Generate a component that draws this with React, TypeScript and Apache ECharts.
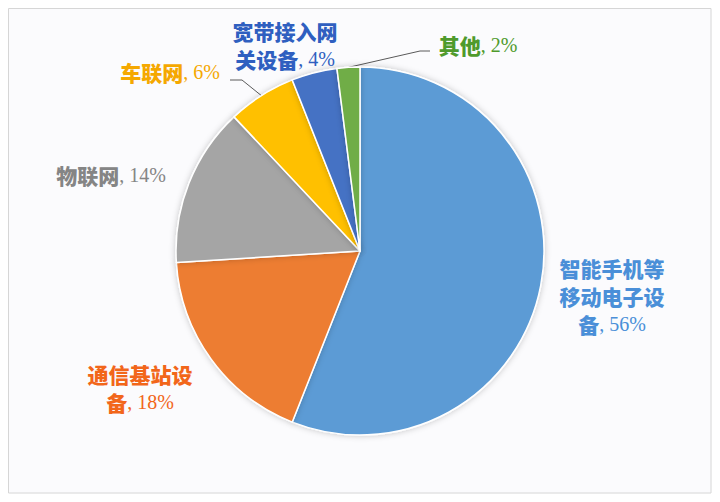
import React, { useEffect, useRef } from "react";
import * as echarts from "echarts";

// data (percent shares, clockwise from 12 o'clock)
const categories = [
  "智能手机等移动电子设备",
  "通信基站设备",
  "物联网",
  "车联网",
  "宽带接入网关设备",
  "其他",
];
const shares = [56, 18, 14, 6, 4, 2];

const SLICE_COLORS = ["#5b9bd5", "#ed7d31", "#a5a5a5", "#ffc000", "#4472c4", "#70ad47"];
const LABEL_COLORS = ["#4a8fd8", "#f2661a", "#858585", "#f5a800", "#2f5fc0", "#4f9a2c"];

// label centres and label-line bends (layout only)
const LABEL_POS = [
  [612, 296],
  [140, 388],
  [111, 175],
  [170, 72],
  [285, 45],
  [478, 45],
];
const LINE_BENDS: Record<number, number[][]> = {
  3: [
    [242, 80],
    [230, 80],
  ],
  5: [
    [420, 51],
    [430, 51],
  ],
};

const CJK = '"Noto Sans CJK SC", "Noto Sans", sans-serif';
const SERIF = '"Liberation Serif", "DejaVu Serif", serif';

function wrapName(s: string, n = 5) {
  const out: string[] = [];
  for (let i = 0; i < s.length; i += n) out.push(s.slice(i, i + n));
  return out;
}

const App: React.FC = () => {
  const ref = useRef<HTMLDivElement | null>(null);

  useEffect(() => {
    if (!ref.current) return;
    const inst = echarts.init(ref.current, undefined, { renderer: "svg" });

    const data = categories.map((name, i) => {
      const rich: any = {};
      rich["n" + i] = {
        fontFamily: CJK,
        fontWeight: 900,
        fontSize: 21,
        lineHeight: 28,
        color: LABEL_COLORS[i],
      };
      rich["v" + i] = {
        fontFamily: SERIF,
        fontSize: 20,
        lineHeight: 28,
        color: LABEL_COLORS[i],
      };
      return {
        name,
        value: shares[i],
        itemStyle: { color: SLICE_COLORS[i] },
        label: { rich },
        labelLine: { show: LINE_BENDS[i] !== undefined },
      };
    });

    inst.setOption({
      animation: false,
      backgroundColor: "#ffffff",
      graphic: [
        {
          type: "rect",
          shape: { x: 8.5, y: 8.5, width: 702.5, height: 484.5 },
          style: { fill: "#fbfbfd", stroke: "#d6d6d6", lineWidth: 1 },
          z: -10,
          silent: true,
        },
      ],
      series: [
        {
          type: "pie",
          center: [360, 251],
          radius: 184,
          startAngle: 90,
          clockwise: true,
          avoidLabelOverlap: false,
          itemStyle: {
            borderColor: "#ffffff",
            borderWidth: 1.5,
            shadowBlur: 6,
            shadowColor: "rgba(0,0,0,0.22)",
          },
          emphasis: { disabled: true },
          label: {
            show: true,
            position: "outside",
            formatter: (p: any) => {
              const i = p.dataIndex;
              const lines = wrapName(p.name);
              const last = lines.length - 1;
              return lines
                .map((l, k) =>
                  k === last ? `{n${i}|${l}}{v${i}|, ${p.value}%}` : `{n${i}|${l}}`
                )
                .join("\n");
            },
          },
          labelLine: {
            show: true,
            lineStyle: { color: "#5a5a5a", width: 1 },
          },
          labelLayout: (params: any) => {
            const i = params.dataIndex;
            const [x, y] = LABEL_POS[i];
            const res: any = { x, y, align: "center", verticalAlign: "middle" };
            const bends = LINE_BENDS[i];
            if (bends && params.labelLinePoints) {
              res.labelLinePoints = [params.labelLinePoints[0], ...bends];
            }
            return res;
          },
          data,
        },
      ],
    });

    return () => inst.dispose();
  }, []);

  return (
    <div
      ref={ref}
      style={{ position: "fixed", left: 0, top: 0, width: 720, height: 502 }}
    />
  );
};

export default App;
